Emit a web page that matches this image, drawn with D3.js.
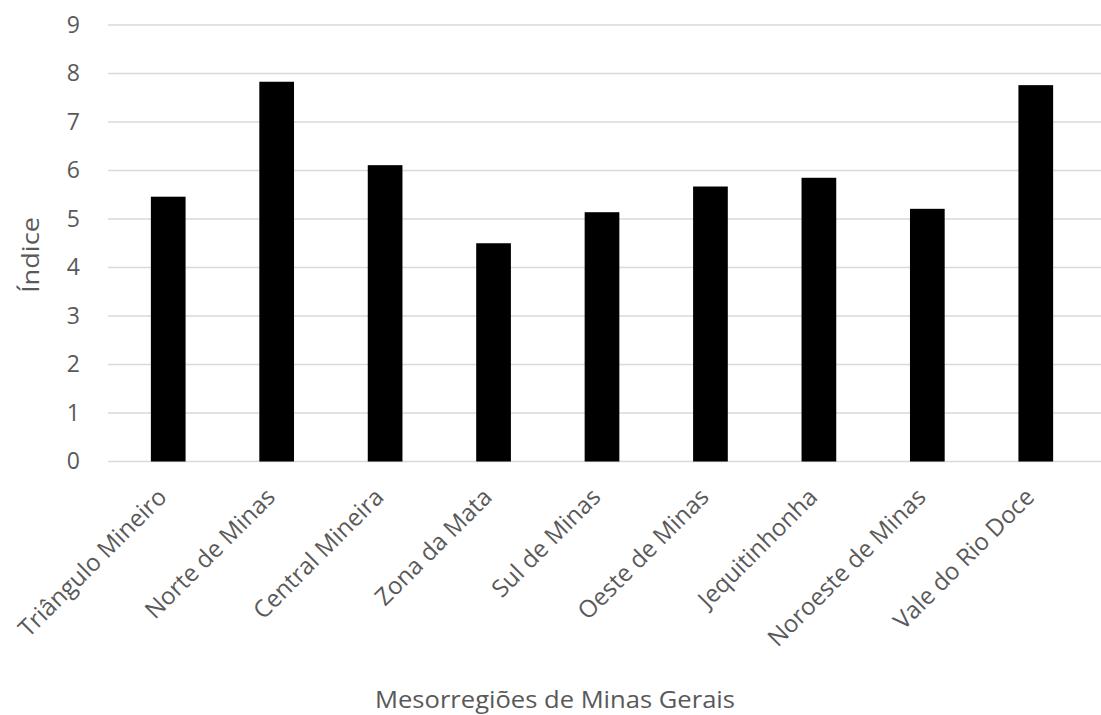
<!DOCTYPE html>
<html>
<head>
<meta charset="utf-8">
<script src="https://cdn.jsdelivr.net/npm/d3@7"></script>
<style>
  html, body { margin: 0; padding: 0; background: #fff; }
  svg { display: block; }
  text { font-family: "Open Sans", "DejaVu Sans", sans-serif; fill: #595959; }
</style>
</head>
<body>
<svg id="chart" width="1101" height="715"></svg>
<script>
// Mesorregiões de Minas Gerais e respectivo índice
const categories = [
  "Triângulo Mineiro", "Norte de Minas", "Central Mineira", "Zona da Mata",
  "Sul de Minas", "Oeste de Minas", "Jequitinhonha", "Noroeste de Minas",
  "Vale do Rio Doce"
];
const values = [5.46, 7.83, 6.11, 4.50, 5.14, 5.67, 5.85, 5.21, 7.76];
const yTicks = [0, 1, 2, 3, 4, 5, 6, 7, 8, 9];
const xTitle = "Mesorregiões de Minas Gerais";
const yTitle = "Índice";

const svg = d3.select("#chart");
const plot = { gridLeft: 108, gridRight: 1101, left: 114, right: 1090, top: 25, bottom: 461.5 };

const x = d3.scaleBand()
  .domain(categories)
  .range([plot.left, plot.right])
  .paddingInner(0.68)
  .paddingOuter(0.34);

const y = d3.scaleLinear()
  .domain([0, 9])
  .range([plot.bottom, plot.top]);

// horizontal gridlines
svg.append("g")
  .selectAll("line")
  .data(yTicks)
  .join("line")
  .attr("x1", plot.gridLeft)
  .attr("x2", plot.gridRight)
  .attr("y1", d => y(d))
  .attr("y2", d => y(d))
  .attr("stroke", "#d9d9d9")
  .attr("stroke-width", 1.5);

// y axis tick labels
const yAxis = d3.axisLeft(y).tickValues(yTicks).tickSize(0).tickPadding(0);
svg.append("g")
  .attr("transform", `translate(${plot.gridLeft - 28},0)`)
  .call(yAxis)
  .call(g => g.select(".domain").remove())
  .call(g => g.selectAll("text")
    .attr("font-size", 23)
    .attr("fill", "#595959")
    .attr("font-family", "\"Open Sans\", sans-serif"));

// bars
svg.append("g")
  .selectAll("rect")
  .data(values)
  .join("rect")
  .attr("x", (d, i) => x(categories[i]))
  .attr("width", x.bandwidth())
  .attr("y", d => y(d))
  .attr("height", d => y(0) - y(d))
  .attr("fill", "#000");

// category labels, rotated
const xAxis = d3.axisBottom(x).tickSize(0).tickPadding(0);
svg.append("g")
  .attr("transform", `translate(0,${plot.bottom})`)
  .call(xAxis)
  .call(g => g.select(".domain").remove())
  .call(g => g.selectAll("text")
    .attr("font-size", 24)
    .attr("fill", "#595959")
    .attr("font-family", "\"Open Sans\", sans-serif")
    .attr("text-anchor", "end")
    .attr("dy", "0")
    .attr("transform", "translate(0,37) rotate(-45)"));

// axis titles
svg.append("text")
  .attr("x", 555)
  .attr("y", 708)
  .attr("text-anchor", "middle")
  .attr("font-size", 23)
  .attr("textLength", 360)
  .attr("lengthAdjust", "spacingAndGlyphs")
  .text(xTitle);

svg.append("text")
  .attr("transform", `translate(39,255) rotate(-90)`)
  .attr("text-anchor", "middle")
  .attr("font-size", 24)
  .attr("textLength", 76)
  .attr("lengthAdjust", "spacingAndGlyphs")
  .text(yTitle);
</script>
</body>
</html>
